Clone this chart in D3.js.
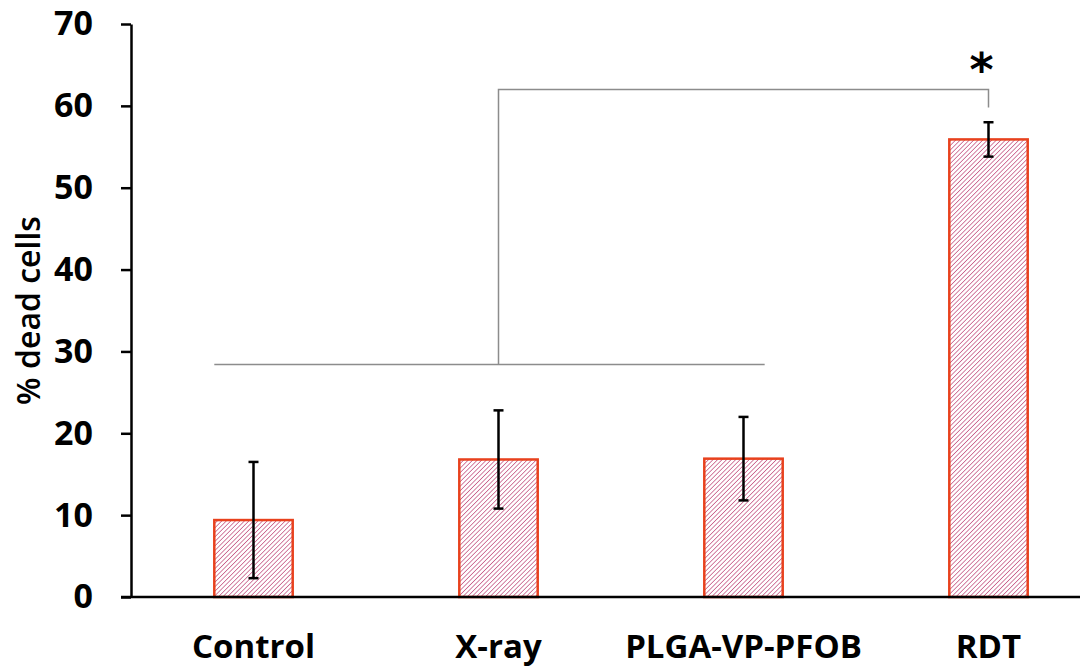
<!DOCTYPE html>
<html>
<head>
<meta charset="utf-8">
<script src="https://cdn.jsdelivr.net/npm/d3@7"></script>
<style>
  body { margin: 0; background: #fff; }
</style>
</head>
<body>
<script>
/* global d3 */

// data
const groups = ['Control', 'X-ray', 'PLGA-VP-PFOB', 'RDT'];
const means = [9.4, 16.8, 16.9, 55.9];
const errors = [7.1, 6.0, 5.1, 2.1];
const yTicks = [0, 10, 20, 30, 40, 50, 60, 70];

// significance bracket: low bar spans Control..PLGA, joined to RDT
const bracketLow = 28.4;
const bracketHigh = 62;
const bracketDrop = 59.8;
const starLabel = '*';

const width = 1080;
const height = 668;
const margin = { top: 24, right: -31, bottom: 71, left: 131 };

const svg = d3.select('body').append('svg')
  .attr('width', width)
  .attr('height', height);

// pink diagonal hatch used inside the bars
const defs = svg.append('defs');
const pattern = defs.append('pattern')
  .attr('id', 'hatch')
  .attr('patternUnits', 'userSpaceOnUse')
  .attr('width', 3.2)
  .attr('height', 3.2)
  .attr('patternTransform', 'rotate(45)');
pattern.append('rect')
  .attr('width', 3.2).attr('height', 3.2).attr('fill', '#fff');
pattern.append('line')
  .attr('x1', 0).attr('y1', 0).attr('x2', 0).attr('y2', 3.2)
  .attr('stroke', '#c9628c')
  .attr('stroke-width', 1.6);

const x = d3.scaleBand()
  .domain(groups)
  .range([margin.left, width - margin.right])
  .paddingInner(0.68)
  .paddingOuter(0.34);

const y = d3.scaleLinear()
  .domain([0, 70])
  .range([height - margin.bottom, margin.top]);

// bars
svg.append('g')
  .selectAll('rect')
  .data(groups)
  .join('rect')
    .attr('x', d => x(d))
    .attr('y', (d, i) => y(means[i]))
    .attr('width', x.bandwidth())
    .attr('height', (d, i) => y(0) - y(means[i]))
    .attr('fill', 'url(#hatch)')
    .attr('stroke', '#e8411d')
    .attr('stroke-width', 2.5);

// error bars
const eb = svg.append('g')
  .attr('stroke', '#000')
  .attr('stroke-width', 2.5)
  .selectAll('g')
  .data(groups)
  .join('g')
    .attr('transform', d => `translate(${x(d) + x.bandwidth() / 2},0)`);
eb.append('line')
  .attr('y1', (d, i) => y(means[i] - errors[i]))
  .attr('y2', (d, i) => y(means[i] + errors[i]));
eb.append('line')
  .attr('x1', -5).attr('x2', 5)
  .attr('y1', (d, i) => y(means[i] - errors[i]))
  .attr('y2', (d, i) => y(means[i] - errors[i]));
eb.append('line')
  .attr('x1', -5).attr('x2', 5)
  .attr('y1', (d, i) => y(means[i] + errors[i]))
  .attr('y2', (d, i) => y(means[i] + errors[i]));

// y axis
const yAxis = svg.append('g')
  .attr('transform', `translate(${margin.left},0)`)
  .call(d3.axisLeft(y).tickValues(yTicks).tickSize(10).tickSizeOuter(0).tickPadding(28));
yAxis.select('.domain').attr('stroke-width', 2.5);
yAxis.selectAll('.tick line').attr('stroke-width', 2.5);
yAxis.selectAll('.tick text')
  .attr('font-family', 'Open Sans')
  .attr('font-weight', 'bold')
  .attr('font-size', 34)
  .attr('fill', '#000');

// x axis baseline (runs under the left tick, off to the right edge)
svg.append('line')
  .attr('x1', margin.left - 10)
  .attr('x2', width)
  .attr('y1', y(0))
  .attr('y2', y(0))
  .attr('stroke', '#000')
  .attr('stroke-width', 2.5);

// category labels
svg.append('g')
  .selectAll('text')
  .data(groups)
  .join('text')
    .attr('x', d => x(d) + x.bandwidth() / 2)
    .attr('y', 658)
    .attr('text-anchor', 'middle')
    .attr('font-family', 'Open Sans')
    .attr('font-weight', 'bold')
    .attr('font-size', 33)
    .attr('fill', '#000')
    .text(d => d);

// y title
svg.append('text')
  .attr('transform', `translate(40,${(y(0) + y(70)) / 2}) rotate(-90)`)
  .attr('text-anchor', 'middle')
  .attr('font-family', 'Open Sans')
  .attr('font-weight', 600)
  .attr('font-size', 32)
  .attr('fill', '#000')
  .text('% dead cells');

// significance bracket
const lowStart = x('Control');
const lowEnd = x('PLGA-VP-PFOB') + x.bandwidth() * 0.77;
const lowMid = x('X-ray') + x.bandwidth() / 2;
const rdtMid = x('RDT') + x.bandwidth() / 2;
svg.append('path')
  .attr('d', [
    `M${lowStart},${y(bracketLow)}H${lowEnd}`,
    `M${lowMid},${y(bracketLow)}V${y(bracketHigh)}H${rdtMid}V${y(bracketDrop)}`,
  ].join(''))
  .attr('fill', 'none')
  .attr('stroke', '#8c8c8c')
  .attr('stroke-width', 1.5);

svg.append('text')
  .attr('x', rdtMid - 7)
  .attr('y', 86)
  .attr('text-anchor', 'middle')
  .attr('font-family', 'DejaVu Sans')
  .attr('font-weight', 'bold')
  .attr('font-size', 46)
  .attr('fill', '#000')
  .text(starLabel);
</script>
</body>
</html>
